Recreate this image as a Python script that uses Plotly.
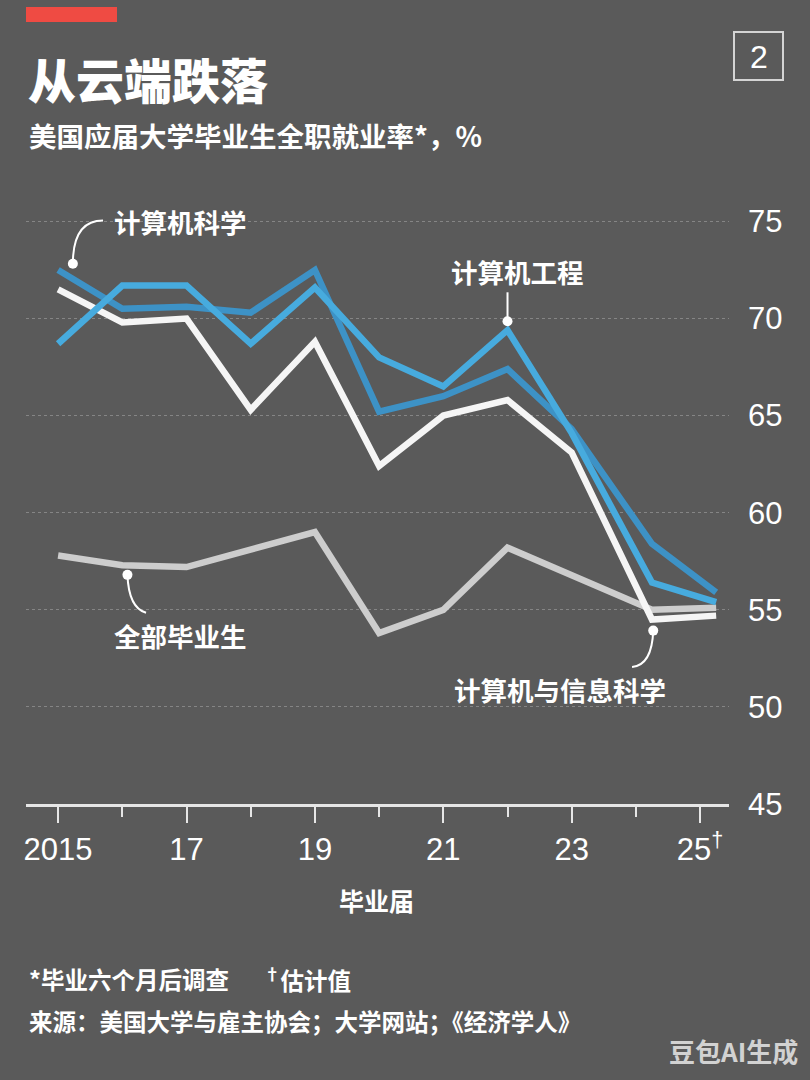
import plotly.graph_objects as go

# data
years = [2015, 2016, 2017, 2018, 2019, 2020, 2021, 2022, 2023, 2024.25, 2025.25]
comp_sci = [72.5, 70.5, 70.6, 70.3, 72.5, 65.2, 66.0, 67.4, 64.3, 58.4, 55.9]
comp_eng = [68.7, 71.7, 71.7, 68.7, 71.6, 68.0, 66.5, 69.4, 64.1, 56.4, 55.4]
comp_info = [71.5, 69.8, 70.0, 65.3, 68.8, 62.4, 65.0, 65.8, 63.1, 54.5, 54.7]
all_grads = [57.8, 57.3, 57.2, 58.1, 59.0, 53.8, 55.0, 58.2, 56.8, 55.0, 55.1]

major_ticks = [2015, 2017, 2019, 2021, 2023, 2025]
major_labels = ["2015", "17", "19", "21", "23", "25<sup>†</sup>"]
minor_ticks = [2016, 2018, 2020, 2022, 2024]
y_ticks = [45, 50, 55, 60, 65, 70, 75]

BG = "#5a5a5a"
CJK = "Noto Sans CJK SC, Noto Sans, sans-serif"
NUM = "Liberation Sans Narrow, Liberation Sans, Arial, sans-serif"

# plot area in pixels (for placing header / footer text)
W, H = 810, 1080
L, R, T, B = 26, 729, 202, 804


def fx(px):
    return (px - L) / (R - L)


def fy(py):
    return (B - py) / (B - T)


fig = go.Figure()

series = [
    (all_grads, "#cdcdcd"),
    (comp_info, "#f5f5f5"),
    (comp_sci, "#3d92c6"),
    (comp_eng, "#47abde"),
]
for vals, col in series:
    fig.add_trace(go.Scatter(x=years, y=vals, mode="lines",
                             line=dict(color=col, width=6.5),
                             hoverinfo="skip", showlegend=False))

# leader dots, offset a little from the points they label
dot_x = [years[0] + 0.23, years[7], years[1] + 0.08, years[9] + 0.02]
dot_y = [comp_sci[0] + 0.32, comp_eng[7] + 0.46, all_grads[1] - 0.5, comp_info[9] - 0.57]
fig.add_trace(go.Scatter(x=dot_x, y=dot_y, mode="markers",
                         marker=dict(color="white", size=10),
                         hoverinfo="skip", showlegend=False))

leader = dict(color="white", width=2)
shapes = [
    # 计算机科学
    dict(type="path", xref="x", yref="y", line=leader,
         path=f"M 2015.70,75.05 Q {dot_x[0]},75.05 {dot_x[0]},{dot_y[0]}"),
    # 计算机工程
    dict(type="line", xref="x", yref="y", line=leader,
         x0=dot_x[1], x1=dot_x[1], y0=dot_y[1], y1=71.35),
    # 全部毕业生
    dict(type="path", xref="x", yref="y", line=leader,
         path=f"M {dot_x[2]},{dot_y[2]} Q 2016.1,55.1 2016.37,54.85"),
    # 计算机与信息科学
    dict(type="path", xref="x", yref="y", line=leader,
         path=f"M {dot_x[3]},{dot_y[3]} Q 2024.25,52.15 2023.94,52.06"),
    # red bar top left
    dict(type="rect", xref="paper", yref="paper", x0=fx(26), x1=fx(117),
         y0=fy(22), y1=fy(7), fillcolor="#ef4b43", line=dict(width=0)),
    # numbered box
    dict(type="rect", xref="paper", yref="paper", x0=fx(734), x1=fx(783),
         y0=fy(80), y1=fy(32), line=dict(color="#d4d4d4", width=2)),
]

lab = dict(family=CJK, size=26.5, color="white", weight="bold")
annotations = [
    dict(x=2016.9, y=75.0, text="计算机科学", font=lab),
    dict(x=2022.15, y=72.42, text="计算机工程", font=lab),
    dict(x=2016.9, y=53.66, text="全部毕业生", font=lab),
    dict(x=2022.82, y=50.88, text="计算机与信息科学", font=lab),
]
for a in annotations:
    a.update(xref="x", yref="y", showarrow=False, xanchor="center", yanchor="middle")

foot = dict(family=CJK, size=23.5, color="white", weight="bold")
paper_text = [
    dict(x=fx(26), y=fy(78), text="从云端跌落", xanchor="left",
         font=dict(family=CJK, size=48, color="white", weight=900)),
    dict(x=fx(27), y=fy(135), text="美国应届大学毕业生全职就业率*，%", xanchor="left",
         font=dict(family=CJK, size=27.5, color="white", weight="bold")),
    dict(x=fx(758.5), y=fy(57), text="2", xanchor="center",
         font=dict(family=NUM, size=32, color="white")),
    dict(x=fx(376), y=fy(900), text="毕业届", xanchor="center",
         font=dict(family=CJK, size=25, color="white", weight="bold")),
    dict(x=fx(27), y=fy(979), text="*毕业六个月后调查", xanchor="left", font=foot),
    dict(x=fx(262), y=fy(979), text="<sup>†</sup>估计值", xanchor="left", font=foot),
    dict(x=fx(27), y=fy(1021), text="来源：美国大学与雇主协会；大学网站；《经济学人》",
         xanchor="left", font=foot),
    dict(x=fx(800), y=fy(1050), text="豆包AI生成", xanchor="right",
         font=dict(family=CJK, size=26, color="#d2d2d2", weight="bold")),
]
for a in paper_text:
    a.update(xref="paper", yref="paper", showarrow=False, yanchor="middle")

fig.update_layout(
    width=W, height=H,
    margin=dict(l=L, r=W - R, t=T, b=H - B),
    paper_bgcolor=BG, plot_bgcolor=BG,
    shapes=shapes,
    annotations=annotations + paper_text,
    showlegend=False,
)

fig.update_xaxes(
    range=[2014.5, 2025.45],
    tickmode="array", tickvals=major_ticks, ticktext=major_labels,
    ticks="outside", ticklen=16, tickwidth=2, tickcolor="#e6e6e6",
    minor=dict(tickmode="array", tickvals=minor_ticks, ticks="outside",
               ticklen=10, tickwidth=2, tickcolor="#e6e6e6", showgrid=False),
    showline=True, linecolor="#e6e6e6", linewidth=3,
    showgrid=False, zeroline=False,
    tickfont=dict(family=NUM, size=31, color="white"),
    ticklabelstandoff=0,
)
fig.update_yaxes(
    range=[45, 76], side="right",
    tickmode="array", tickvals=y_ticks,
    ticks="", showline=False, zeroline=False,
    showgrid=True, gridcolor="#858585", gridwidth=1, griddash="dot",
    tickfont=dict(family=NUM, size=31, color="white"),
    ticklabelstandoff=18,
)

fig.write_html("out.html", config={"displayModeBar": False},
               post_script="document.body.style.margin='0';document.body.style.background='#5a5a5a';")
